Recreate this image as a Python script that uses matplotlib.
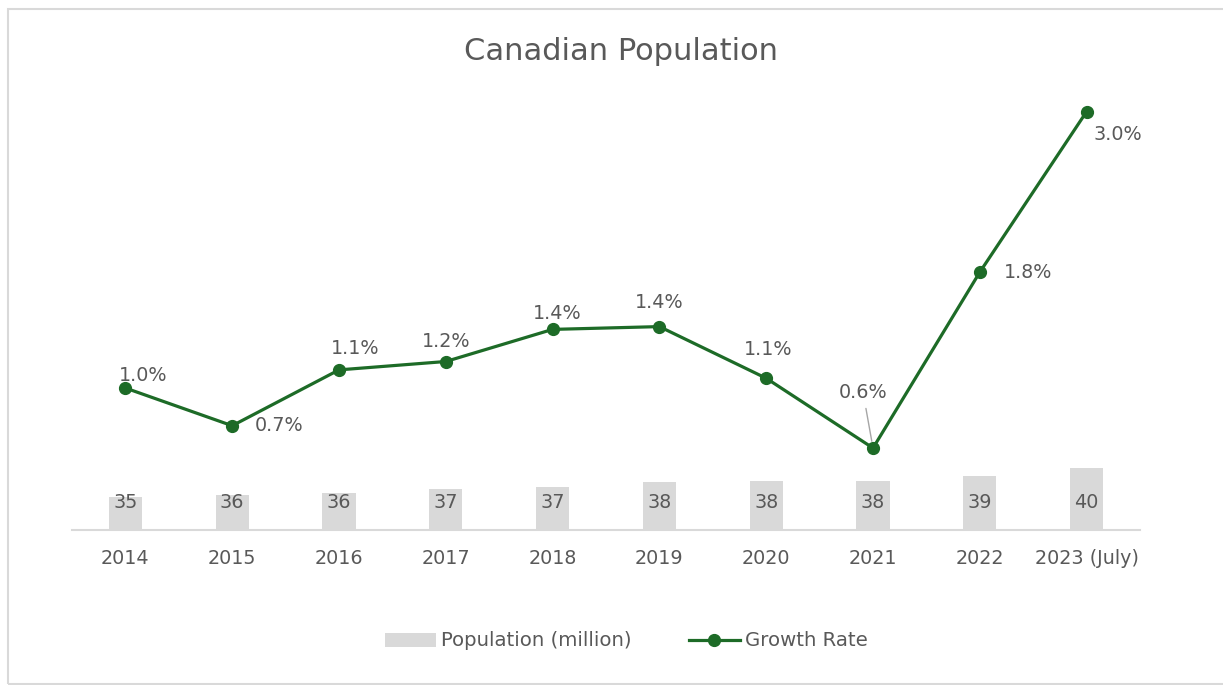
import matplotlib
matplotlib.use('Agg')
import matplotlib.pyplot as plt
from matplotlib.patches import Rectangle
from matplotlib.lines import Line2D
from matplotlib.patches import Patch

years = ['2014', '2015', '2016', '2017', '2018', '2019', '2020', '2021', '2022', '2023 (July)']
population = [35.46, 35.79, 36.11, 36.77, 37.10, 37.82, 38.08, 38.08, 38.80, 40.11]
growth = [0.99, 0.72, 1.12, 1.18, 1.41, 1.43, 1.06, 0.56, 1.82, 2.97]

# label offsets in pixels (dx, dy), up is positive
label_offsets = [(18, 13), (47, 0), (16, 21), (0, 20), (5, 16),
                 (0, 24), (2, 29), (-10, 56), (48, 0), (31, -23)]

grey = '#595959'
green = '#1d6b27'
bar_color = '#d9d9d9'
px = 0.72  # points per pixel at dpi 100

fig = plt.figure(figsize=(12.23, 6.85), dpi=100)
ax = fig.add_axes([72 / 1223, 155 / 685, 1068 / 1223, 440 / 685])
ax2 = ax.twinx()

x = list(range(len(years)))
ax.bar(x, population, width=0.31, color=bar_color, zorder=1)
ax.set_xlim(-0.5, len(years) - 0.5)
ax.set_ylim(30, 30 + 440 / 6.1)
ax.set_xticks(x)
ax.set_xticklabels(years, fontsize=13.8, color=grey)
ax.tick_params(axis='x', length=0, pad=14)
ax.set_yticks([])
for s in ['top', 'left', 'right']:
    ax.spines[s].set_visible(False)
ax.spines['bottom'].set_color(bar_color)
ax.spines['bottom'].set_linewidth(1.5)

for xi, p in zip(x, population):
    ax.annotate(f'{p:.0f}', (xi, 30), xytext=(0, 28 * px), textcoords='offset points',
                ha='center', va='center', fontsize=13.8, color=grey)

ax2.plot(x, growth, color=green, linewidth=2.3, marker='o', markersize=8.5, zorder=3)
ax2.set_ylim(-0.027, -0.027 + 440 / 139.6)
ax2.set_yticks([])
for s in ['top', 'left', 'right', 'bottom']:
    ax2.spines[s].set_visible(False)

for xi, g, (dx, dy) in zip(x, growth, label_offsets):
    if xi == 7:
        ax2.annotate(f'{g:.1f}%', (xi, g), xytext=(dx * px, dy * px), textcoords='offset points',
                     ha='center', va='center', fontsize=13.8, color=grey,
                     arrowprops=dict(arrowstyle='-', color='#a6a6a6', lw=1,
                                     shrinkA=3, shrinkB=5))
    else:
        ax2.annotate(f'{g:.1f}%', (xi, g), xytext=(dx * px, dy * px), textcoords='offset points',
                     ha='center', va='center', fontsize=13.8, color=grey)

fig.text(0.508, 1 - 52 / 685, 'Canadian Population', ha='center', va='center',
         fontsize=22, color=grey)

handles = [Patch(facecolor=bar_color, edgecolor='none'),
           Line2D([0], [0], color=green, linewidth=2.3, marker='o', markersize=8.5)]
leg = fig.legend(handles, ['Population (million)', 'Growth Rate'], loc='center',
                 bbox_to_anchor=(0.512, 1 - 641 / 685), ncol=2, frameon=False,
                 fontsize=14.2, handlelength=2.6, handletextpad=0.25, columnspacing=2.9)
for t in leg.get_texts():
    t.set_color(grey)

fig.patches.append(Rectangle((8 / 1223, 1 / 685), 1.2, 675 / 685, transform=fig.transFigure,
                             fill=False, edgecolor=bar_color, linewidth=1.5))

plt.savefig('out.png', dpi=100)
